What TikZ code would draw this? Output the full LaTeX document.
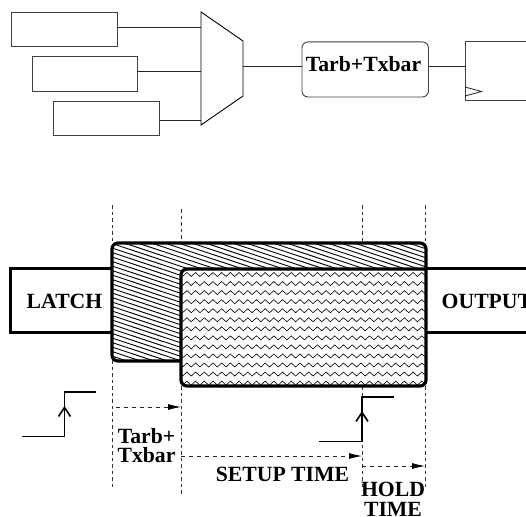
\documentclass[tikz,border=0pt]{standalone}
\usepackage{fontspec}
\setmainfont{Liberation Serif}
\usetikzlibrary{arrows.meta,decorations.pathmorphing,calc}
\tikzset{
  x=1pt,y=-1pt,
  thin box/.style={draw=black!75,line width=0.9pt,fill=white,inner sep=0pt},
  wire/.style={draw=black!85,line width=0.8pt},
  lbl/.style={font=\fontsize{21.7}{19.5}\selectfont\bfseries,inner sep=0pt,align=center},
  guide/.style={draw=black!80,line width=0.8pt,dash pattern=on 3.5pt off 3pt},
  span/.style={draw=black!85,line width=0.8pt,dash pattern=on 4pt off 4pt,-{Latex[length=13pt,width=6pt,black]}},
  hatchline/.style={line width=0.9pt},
  wavy/.style={line width=0.6pt,decorate,decoration={zigzag,amplitude=2pt,segment length=8.7pt}},
  heavy/.style={draw=black,line width=3.2pt,rounded corners=6pt},
  edgeline/.style={draw=black,line width=2.2pt},
  stepline/.style={draw=black,line width=1.6pt},
  uptick/.style={draw=black,line width=1.6pt,-{Straight Barb[length=9pt,width=12pt,line width=1.6pt]}}
}
\begin{document}
\begin{tikzpicture}
\useasboundingbox (0,0) rectangle (526,516);
\begin{scope}
\clip (0,0) rectangle (526,516);
% --- upper block diagram
\node[thin box,anchor=north west,minimum width=106pt,minimum height=34pt] (b1) at (11,12) {};
\node[thin box,anchor=north west,minimum width=105pt,minimum height=35pt] (b2) at (32,56) {};
\node[thin box,anchor=north west,minimum width=106pt,minimum height=34pt] (b3) at (53,101) {};
\coordinate (m1) at (201,27);
\coordinate (m2) at (201,71);
\coordinate (m3) at (201,120.5);
\coordinate (mo) at (243,66);
\draw[wire] (b1.east |- m1) -- (m1);
\draw[wire] (b2.east |- m2) -- (m2);
\draw[wire] (b3.east |- m3) -- (m3);
\draw[thin box,draw=black] (201,12) -- (243,41) -- (243,96) -- (201,125) -- cycle;
\node[thin box,rounded corners=6pt,anchor=north west,minimum width=126.5pt,minimum height=55pt] (tt) at (301.5,41.5) {};
\node[lbl,anchor=center] (ttl) at (363.5,64.5) {Tarb+Txbar};
\coordinate (ff) at (465,66);
\draw[wire] (mo) -- (tt.west |- mo);
\draw[wire] (tt.east |- mo) -- (ff);
\draw[thin box] (526,41.5) -- (465,41.5) -- (465,100.5) -- (526,100.5);
\draw[wire] (465,87) -- (481.5,91.5) -- (465,96);
% --- guides
\coordinate (g1) at (112,205);
\coordinate (g2) at (181,209);
\coordinate (g3) at (362,205);
\coordinate (g4) at (425,205);
\draw[guide] (g1) -- (112,243);
\draw[guide] (g2) -- (181,243);
\draw[guide] (g3) -- (362,243);
\draw[guide] (g4) -- (425,243);
\draw[guide] (112,360) -- (112,490);
\draw[guide] (181,386) -- (181,495);
\draw[guide] (362,386) -- (362,490);
\draw[guide] (425,386) -- (425,490);
% --- latch / output bars
\draw[edgeline] (112,268.5) -- (10.5,268.5) -- (10.5,332.5) -- (112,332.5);
\draw[edgeline] (426,268.5) -- (526,268.5);
\draw[edgeline] (426,332.5) -- (526,332.5);
\node[lbl] (latch) at (64.5,301) {LATCH};
\node[lbl,anchor=west] (output) at (441.5,301) {OUTPUT};
% --- hatched window
\begin{scope}
\clip[rounded corners=6pt] (112,243) rectangle (426,361);
\foreach \k in {0,...,80} {
  \draw[hatchline] (100,{100+4.5*\k}) -- (440,{100+4.5*\k+113});
}
\end{scope}
% --- wavy window
\path[fill=white,rounded corners=6pt] (181,269) rectangle (426,386);
\begin{scope}
\clip[rounded corners=6pt] (181,269) rectangle (426,386);
\foreach \k in {0,...,12} {
  \draw[wavy] (176,{274.5+9.05*\k}) -- (436,{274.5+9.05*\k});
}
\end{scope}
\draw[heavy] (181,361) -- (112,361) -- (112,243) -- (426,243) -- (426,386) -- (181,386) -- (181,269) -- (426,269);
% --- clock edges
\draw[stepline] (22,436.5) -- (64.5,436.5) -- (64.5,392) -- (96,392);
\draw[uptick] (64.5,436) -- (64.5,406);
\draw[stepline] (319,441.5) -- (362,441.5) -- (362,397) -- (394,397);
\draw[uptick] (362,441) -- (362,411);
% --- time spans
\draw[span] (g1 |- 0,407) ++(4,0) -- (g2 |- 0,407);
\draw[span] (g2 |- 0,456) -- (g3 |- 0,456);
\draw[span] (g3 |- 0,466) -- (g4 |- 0,466);
% --- labels
\node[lbl] (t1) at (146.5,445.5) {Tarb+\\Txbar};
\node[lbl] (t2) at (282.5,474) {SETUP TIME};
\node[lbl] (t3) at (393,499.5) {HOLD\\TIME};
\end{scope}
\end{tikzpicture}
\end{document}
